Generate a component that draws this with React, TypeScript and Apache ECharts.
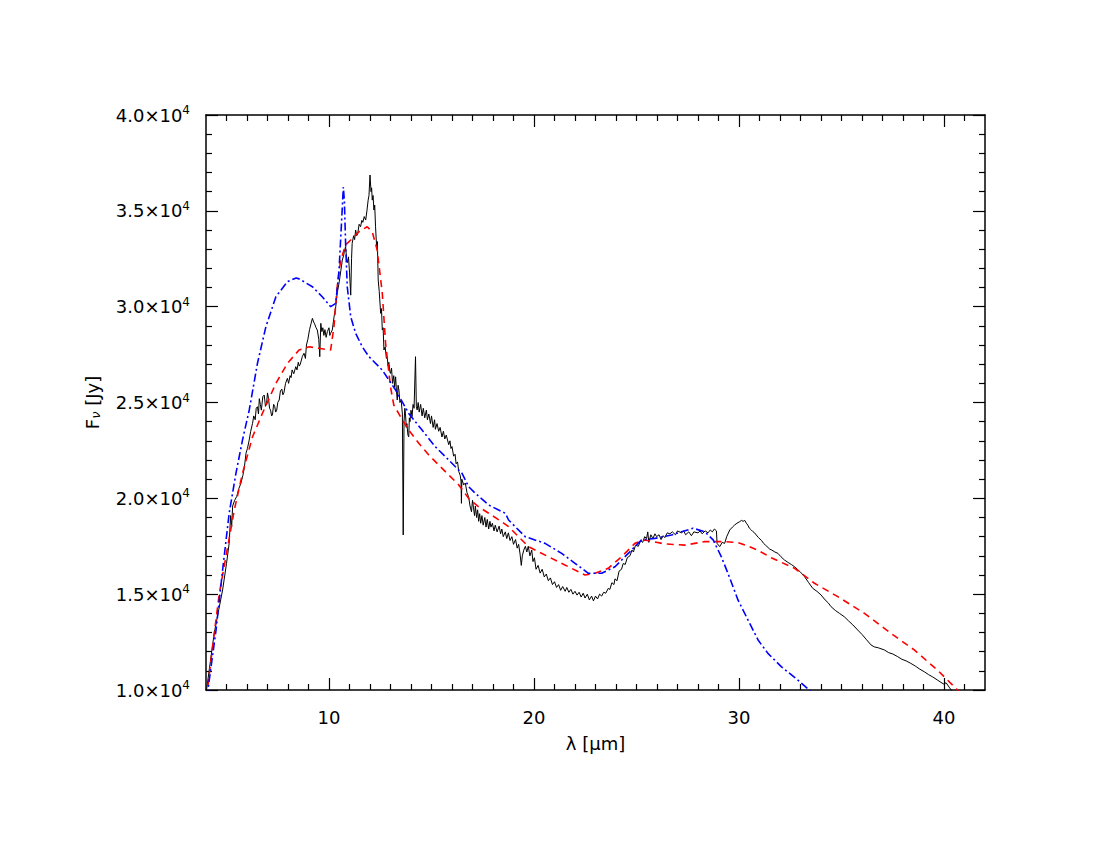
import React, { useEffect, useRef } from "react";
import * as echarts from "echarts";

// Observed spectrum (black, noisy)
const observed: [number, number][] = [
  [4.0, 9800], [4.4, 12960], [4.81, 15220], [5.0, 16600], [5.13, 17650], [5.2, 19100], [5.25, 18500], [5.3, 19600],
  [5.4, 19900], [5.5, 20100], [5.6, 20500], [5.7, 20780], [5.8, 21200], [5.87, 21600], [5.95, 22350], [6.02, 22600],
  [6.1, 23000], [6.18, 23500], [6.27, 23910], [6.33, 24300], [6.4, 24100], [6.45, 24700], [6.51, 24780], [6.56, 24400],
  [6.6, 25200], [6.65, 24900], [6.7, 24600], [6.77, 25300], [6.84, 25390], [6.9, 24800], [6.95, 24900], [7.0, 25500],
  [7.05, 25200], [7.1, 24700], [7.15, 24600], [7.2, 24300], [7.24, 24350], [7.3, 24900], [7.35, 24800], [7.4, 24500],
  [7.45, 24600], [7.5, 25000], [7.57, 25130], [7.63, 25600], [7.7, 25700], [7.75, 25400], [7.8, 25500], [7.88, 26000],
  [7.97, 26260], [8.03, 26000], [8.1, 26400], [8.15, 26300], [8.2, 26700], [8.28, 26500], [8.38, 26870], [8.44, 26700],
  [8.5, 27100], [8.55, 26900], [8.6, 27000], [8.7, 27400], [8.78, 27570], [8.85, 27300], [8.9, 28000], [8.97, 28300],
  [9.05, 28800], [9.12, 29100], [9.19, 29390], [9.25, 29200], [9.3, 29100], [9.37, 28900], [9.43, 28780], [9.5, 28300],
  [9.55, 27390], [9.6, 29130], [9.65, 28700], [9.7, 28900], [9.75, 28500], [9.8, 28800], [9.86, 28400], [9.92, 28700],
  [10.0, 28900], [10.04, 28500], [10.08, 28610], [10.16, 28780], [10.25, 29500], [10.33, 30000], [10.4, 30700],
  [10.5, 31300], [10.58, 31900], [10.65, 32430], [10.72, 32700], [10.75, 32900], [10.81, 33130], [10.86, 32500],
  [10.9, 32300], [10.95, 32600], [11.0, 31800], [11.06, 30600], [11.1, 32500], [11.13, 33300], [11.2, 33700],
  [11.25, 33500], [11.3, 34000], [11.35, 33700], [11.4, 33800], [11.47, 34300], [11.54, 34170], [11.6, 34500],
  [11.65, 34400], [11.72, 34700], [11.79, 34520], [11.85, 35000], [11.91, 35560], [11.95, 35800], [12.0, 36870],
  [12.05, 36000], [12.08, 36200], [12.11, 35560], [12.15, 35800], [12.19, 35040], [12.23, 35300], [12.27, 34170],
  [12.33, 33000], [12.36, 33400], [12.4, 31390], [12.45, 30800], [12.52, 29650], [12.56, 29900], [12.6, 28780],
  [12.64, 28900], [12.68, 27740], [12.74, 27900], [12.8, 27300], [12.84, 27390], [12.88, 26900], [12.92, 27100],
  [12.97, 26600], [13.0, 26520], [13.05, 26800], [13.1, 26000], [13.16, 26400], [13.2, 25800], [13.25, 26340],
  [13.29, 25600], [13.33, 25130], [13.37, 25900], [13.41, 25650], [13.46, 25000], [13.52, 25130], [13.58, 24400],
  [13.62, 18090], [13.66, 24000], [13.7, 24700], [13.73, 24440], [13.77, 23700], [13.8, 23900], [13.85, 23300],
  [13.89, 23210], [13.92, 24200], [13.95, 24000], [14.0, 24600], [14.05, 24260], [14.1, 24900], [14.15, 24700],
  [14.22, 27390], [14.26, 24800], [14.3, 24610], [14.35, 25000], [14.4, 24500], [14.47, 24900], [14.54, 24300],
  [14.6, 24700], [14.67, 24200], [14.75, 24600], [14.8, 24100], [14.87, 24400], [14.95, 23900], [15.0, 24300],
  [15.08, 23700], [15.15, 24100], [15.19, 23600], [15.27, 23900], [15.35, 23500], [15.42, 23700], [15.51, 23200],
  [15.58, 23500], [15.65, 23100], [15.72, 23300], [15.84, 22800], [15.9, 23000], [15.95, 22600], [16.0, 22700],
  [16.08, 22200], [16.15, 22300], [16.2, 21800], [16.27, 21900], [16.33, 21400], [16.4, 21200], [16.44, 20900],
  [16.46, 19740], [16.48, 21000], [16.57, 20700], [16.65, 20800], [16.73, 20300], [16.81, 20080], [16.88, 19600],
  [16.95, 19300], [17.0, 19900], [17.05, 19500], [17.1, 19100], [17.14, 19600], [17.2, 19000], [17.25, 19400],
  [17.3, 18800], [17.35, 19200], [17.4, 18700], [17.46, 19100], [17.52, 18600], [17.6, 19000], [17.66, 18500],
  [17.72, 18900], [17.79, 18400], [17.85, 18800], [17.9, 18500], [17.97, 18700], [18.05, 18300], [18.11, 18600],
  [18.2, 18250], [18.3, 18550], [18.37, 18150], [18.43, 18400], [18.5, 18000], [18.6, 18250], [18.67, 17900],
  [18.75, 18200], [18.83, 17800], [18.92, 18000], [19.0, 17600], [19.1, 17850], [19.18, 17400], [19.25, 17600],
  [19.32, 17100], [19.38, 16500], [19.43, 17000], [19.5, 17300], [19.58, 17500], [19.65, 17200], [19.72, 17500],
  [19.8, 17000], [19.89, 17300], [19.95, 16700], [20.02, 16900], [20.1, 16300], [20.2, 16500], [20.3, 16100],
  [20.4, 16300], [20.5, 15900], [20.6, 16050], [20.7, 15700], [20.8, 15850], [20.9, 15500], [21.0, 15650],
  [21.1, 15350], [21.2, 15500], [21.3, 15200], [21.4, 15400], [21.52, 15150], [21.6, 15350], [21.7, 15100],
  [21.8, 15250], [21.9, 15000], [22.0, 15150], [22.1, 14950], [22.2, 15100], [22.3, 14850], [22.4, 15050],
  [22.49, 14800], [22.6, 15000], [22.7, 14700], [22.81, 14900], [22.9, 14650], [23.0, 14900], [23.1, 14750],
  [23.2, 15000], [23.3, 14900], [23.4, 15100], [23.5, 15050], [23.62, 15300], [23.7, 15250], [23.8, 15600],
  [23.9, 15500], [23.95, 15800], [24.05, 15700], [24.15, 16200], [24.27, 16300], [24.35, 16600], [24.45, 16550],
  [24.55, 16900], [24.68, 17000], [24.78, 17300], [24.85, 17200], [24.95, 17550], [25.09, 17500], [25.2, 17800],
  [25.3, 17700], [25.4, 18000], [25.49, 17900], [25.55, 18250], [25.6, 17700], [25.7, 18100], [25.8, 17900],
  [25.9, 18150], [25.98, 18000], [26.1, 18100], [26.2, 17850], [26.3, 18050], [26.38, 17950], [26.5, 18200],
  [26.63, 18150], [26.75, 18250], [26.9, 18100], [27.0, 18300], [27.19, 18200], [27.3, 18300], [27.4, 18100],
  [27.55, 18250], [27.68, 18050], [27.8, 18250], [28.0, 18200], [28.1, 18300], [28.2, 18150], [28.35, 18300],
  [28.49, 18200], [28.6, 18350], [28.7, 18250], [28.8, 18400], [28.9, 18300], [28.93, 17650], [29.06, 17480],
  [29.18, 17700], [29.3, 17650], [29.4, 18000], [29.55, 18350], [29.68, 18500], [29.79, 18610], [29.9, 18700],
  [30.03, 18780], [30.12, 18850], [30.2, 18800], [30.28, 18850], [30.36, 18700], [30.43, 18600], [30.5, 18450],
  [30.6, 18350], [30.68, 18260], [30.76, 18200], [30.84, 18090], [30.95, 17950], [31.1, 17800], [31.2, 17650],
  [31.3, 17550], [31.5, 17350], [31.6, 17300], [31.75, 17200], [31.9, 17130], [32.05, 16950], [32.22, 16780],
  [32.4, 16650], [32.55, 16550], [32.71, 16430], [32.85, 16300], [33.0, 16150], [33.2, 15910], [33.4, 15600],
  [33.6, 15300], [33.8, 15150], [34.0, 14960], [34.2, 14700], [34.35, 14550], [34.49, 14350], [34.7, 14150],
  [34.9, 14000], [35.14, 13820], [35.35, 13600], [35.55, 13400], [35.79, 13130], [36.0, 12900], [36.2, 12650],
  [36.44, 12350], [36.6, 12250], [36.8, 12200], [37.09, 12090], [37.3, 11950], [37.5, 11880], [37.74, 11740],
  [37.95, 11600], [38.15, 11520], [38.38, 11390], [38.6, 11250], [38.8, 11100], [39.04, 10950], [39.25, 10800],
  [39.45, 10680], [39.68, 10520], [39.85, 10400], [40.0, 10300], [40.1, 10380], [40.25, 10150], [40.35, 10000],
  [40.5, 9800],
];

// Model 1 (red dashed)
const modelRed: [number, number][] = [
  [4.0, 9600], [4.06, 9900], [4.32, 12260], [4.65, 15040], [4.97, 16950], [5.38, 19390], [5.78, 21300],
  [6.27, 23210], [6.75, 24430], [7.41, 26000], [7.97, 27040], [8.54, 27740], [9.03, 27910], [9.51, 27830],
  [10.0, 27740], [10.08, 27740], [10.24, 28950], [10.4, 31040], [10.57, 32430], [10.81, 33220], [11.06, 33480],
  [11.46, 33910], [11.86, 34170], [12.11, 33910], [12.35, 32960], [12.6, 30700], [12.76, 28090], [13.0, 25820],
  [13.16, 24870], [13.49, 24260], [13.89, 23560], [14.38, 22870], [14.87, 22260], [15.35, 21740], [15.84, 21220],
  [16.33, 20700], [16.81, 20000], [17.3, 19560], [17.79, 19220], [18.43, 18780], [18.76, 18520], [19.73, 17480],
  [20.71, 16950], [21.68, 16430], [22.49, 16000], [22.98, 16090], [23.62, 16350], [24.27, 16950], [24.92, 17650],
  [25.41, 17830], [26.38, 17620], [27.36, 17560], [28.33, 17740], [29.3, 17740], [29.95, 17690], [30.5, 17480],
  [31.0, 17250], [31.57, 16900], [32.71, 16350], [33.68, 15570], [34.82, 14870], [36.12, 14000], [37.41, 12960],
  [38.55, 12090], [39.68, 11040], [40.66, 10000], [41.0, 9700],
];

// Model 2 (blue dash-dot)
const modelBlue: [number, number][] = [
  [4.0, 9600], [4.08, 9900], [4.49, 13130], [4.81, 16260], [5.13, 19220], [5.46, 21300], [5.78, 23040],
  [6.11, 24610], [6.51, 27040], [6.92, 28950], [7.41, 30520], [7.97, 31300], [8.4, 31500], [8.54, 31450],
  [9.19, 31040], [9.67, 30520], [10.08, 30000], [10.33, 30170], [10.49, 31910], [10.6, 34170], [10.7, 36240],
  [10.75, 35500], [10.81, 33300], [10.89, 31040], [11.06, 29470], [11.3, 28610], [11.62, 27910], [11.95, 27390],
  [12.11, 27220], [12.6, 26690], [13.25, 25650], [13.89, 24430], [14.54, 23560], [15.19, 22690], [15.84, 22000],
  [16.49, 21300], [16.81, 20610], [17.14, 20260], [17.79, 19650], [18.6, 19220], [18.76, 18870], [19.57, 18000],
  [20.54, 17650], [21.35, 17130], [22.0, 16610], [22.65, 16090], [23.3, 16090], [23.95, 16430], [24.6, 17130],
  [25.25, 17830], [25.9, 17910], [26.71, 18090], [27.76, 18440], [28.33, 18260], [28.74, 17830], [29.14, 16950],
  [29.46, 16090], [29.95, 14700], [30.44, 13650], [30.93, 12610], [31.41, 11910], [32.06, 11220], [32.87, 10520],
  [33.52, 9910],
];

const xMajorTicks = [10, 20, 30, 40];
const xMinorTicks = [5, 6, 7, 8, 9, 11, 12, 13, 14, 15, 16, 17, 18, 19, 21, 22, 23, 24, 25, 26, 27, 28, 29, 31, 32, 33, 34, 35, 36, 37, 38, 39, 41];

const X_MIN = 4;
const X_MAX = 42;
const Y_MIN = 10000;
const Y_MAX = 40000;

const FONT = "DejaVu Sans";

export default function App() {
  const ref = useRef<HTMLDivElement>(null);
  useEffect(() => {
    if (!ref.current) return;
    const chart = echarts.init(ref.current, null, { renderer: "svg" });
    const lineStyle = { color: "#000", width: 1.5 };
    const baseX = (pos: "bottom" | "top", ticks: number[], len: number, labels: boolean, showLine: boolean) => ({
      type: "value",
      position: pos,
      min: X_MIN,
      max: X_MAX,
      axisLine: { show: showLine, onZero: false, lineStyle },
      axisTick: { show: true, inside: true, length: len, customValues: ticks, lineStyle: { color: "#000", width: 1.2 } },
      axisLabel: labels
        ? { show: true, customValues: ticks, color: "#000", fontSize: 18, fontFamily: FONT, margin: 18 }
        : { show: false },
      splitLine: { show: false },
    });
    const baseY = (pos: "left" | "right", labels: boolean) => ({
      type: "value",
      position: pos,
      min: Y_MIN,
      max: Y_MAX,
      interval: 5000,
      axisLine: { show: true, onZero: false, lineStyle },
      axisTick: { show: true, inside: true, length: 12, lineStyle: { color: "#000", width: 1.2 } },
      minorTick: { show: true, splitNumber: 5, length: 6, lineStyle: { color: "#000", width: 1.2 } },
      axisLabel: labels
        ? {
            show: true,
            margin: 16,
            formatter: (v: number) => `{m|${(v / 10000).toFixed(1)}×10}{s|4}`,
            rich: {
              m: { fontSize: 18, fontFamily: FONT, color: "#000" },
              s: { fontSize: 12, fontFamily: FONT, color: "#000", padding: [0, 0, 10, 0] },
            },
          }
        : { show: false },
      splitLine: { show: false },
    });

    const xAxes: any[] = [
      {
        ...baseX("bottom", xMajorTicks, 12, true, true),
        name: "λ [μm]",
        nameLocation: "middle",
        nameGap: 44,
        nameTextStyle: { fontSize: 18, fontFamily: FONT, color: "#000" },
      },
      baseX("bottom", xMinorTicks, 6, false, false),
      baseX("top", xMajorTicks, 12, false, true),
      baseX("top", xMinorTicks, 6, false, false),
    ];
    const yAxes: any[] = [
      {
        ...baseY("left", true),
        name: "{f|F}{n|ν}{f| [Jy]}",
        nameLocation: "middle",
        nameGap: 104,
        nameRotate: 90,
        nameTextStyle: {
          rich: {
            f: { fontSize: 18, fontFamily: FONT, color: "#000" },
            n: { fontSize: 13, fontFamily: FONT, fontStyle: "italic", color: "#000", padding: [6, 0, 0, 0] },
          },
        },
      },
      baseY("right", false),
    ];

    chart.setOption({
      animation: false,
      backgroundColor: "#fff",
      grid: { left: 206, right: 115, top: 115, bottom: 160 },
      xAxis: xAxes,
      yAxis: yAxes,
      series: [
        {
          type: "line",
          data: observed,
          showSymbol: false,
          symbol: "none",
          clip: true,
          lineStyle: { color: "#000", width: 1 },
          xAxisIndex: 0,
          yAxisIndex: 0,
        },
        {
          type: "line",
          data: modelRed,
          showSymbol: false,
          symbol: "none",
          clip: true,
          lineStyle: { color: "#ff0000", width: 1.6, type: [7, 5] },
          xAxisIndex: 0,
          yAxisIndex: 0,
        },
        {
          type: "line",
          data: modelBlue,
          showSymbol: false,
          symbol: "none",
          clip: true,
          lineStyle: { color: "#0000ff", width: 1.6, type: [8, 3, 2, 3] },
          xAxisIndex: 0,
          yAxisIndex: 0,
        },
      ],
    });
    return () => chart.dispose();
  }, []);
  return <div ref={ref} style={{ position: "absolute", left: 0, top: 0, width: 1100, height: 850 }} />;
}
